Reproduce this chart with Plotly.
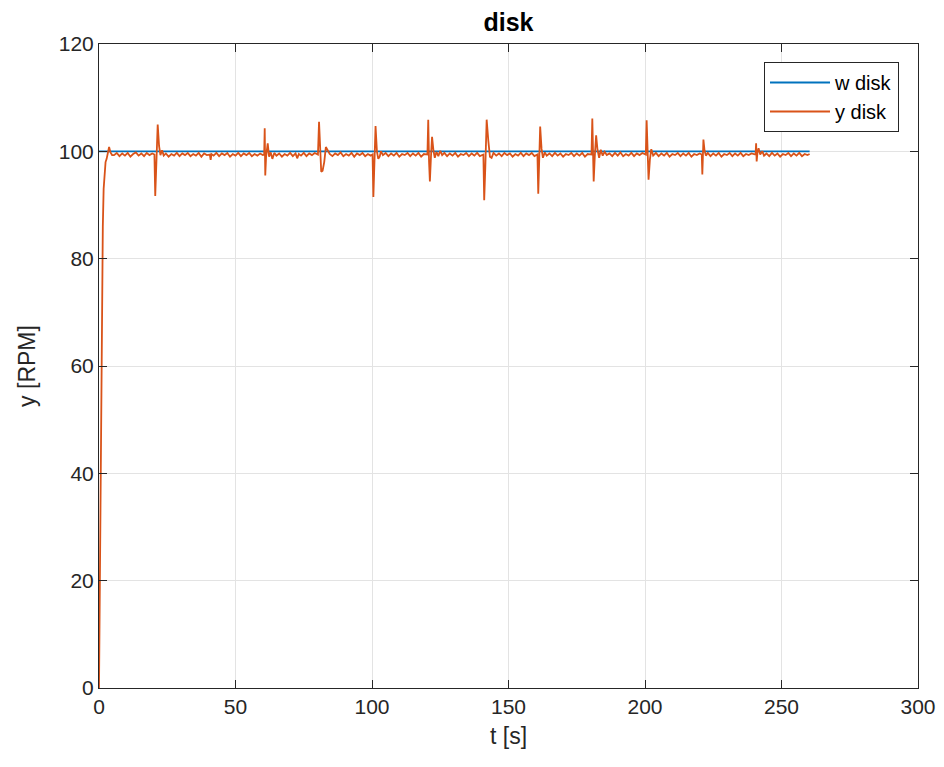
import plotly.graph_objects as go

# reference (setpoint) series
w_disk_time = [0.0, 260.3]
w_disk_value = [100.0, 100.0]

y_start = [(0, 0), (0.2, 15), (0.5, 38), (0.8, 58), (1.1, 74), (1.4, 86), (1.7, 93), (2.0, 96.5),
           (2.4, 98.0), (2.8, 98.6), (3.2, 99.5), (3.7, 100.8), (4.2, 99.8), (4.8, 99.3)]
y_seg_0_20 = [(5.5, 99.3), (6.5, 99.7), (7.5, 99.1), (8.5, 99.6), (9.5, 99.2), (10.5, 99.7), (11.5, 99.0),
              (12.5, 99.5), (13.5, 99.8), (14.5, 99.2), (15.5, 99.6), (16.5, 99.1), (17.5, 99.7), (18.5, 99.3),
              (19.5, 99.6), (20.3, 99.4)]
y_ev_20 = [(20.6, 91.7), (20.9, 96.5), (21.5, 105.0), (22.0, 101.0), (22.5, 99.3), (23.1, 100.2), (23.7, 99.2)]
y_seg_20_60 = [(24.5, 99.6), (25.5, 99.0), (26.5, 99.5), (27.5, 99.2), (28.5, 99.7), (29.5, 99.1), (30.5, 99.6),
               (31.5, 99.3), (32.5, 99.7), (33.5, 99.1), (34.5, 99.5), (35.5, 99.2), (36.5, 99.7), (37.5, 99.0),
               (38.5, 99.6), (39.5, 99.3), (40.6, 99.4), (40.9, 98.4), (41.2, 99.5), (42, 99.2), (43, 99.7),
               (44, 99.1), (45, 99.6), (46, 99.3), (47, 99.7), (48, 99.0), (49, 99.5), (50, 99.2), (51, 99.7),
               (52, 99.1), (53, 99.6), (54, 99.3), (55, 99.7), (56, 99.1), (57, 99.5), (58, 99.2), (59, 99.6),
               (60, 99.3), (60.5, 99.4)]
y_ev_60 = [(60.7, 104.3), (60.9, 95.5), (61.2, 99.0), (61.8, 101.5), (62.3, 99.0), (62.9, 99.8), (63.5, 98.6),
           (64.2, 99.7)]
y_seg_60_80 = [(65, 99.2), (66, 99.6), (67, 99.0), (68, 99.5), (69, 99.2), (70, 99.7), (71, 99.1), (72, 99.6),
               (72.6, 98.7), (73.2, 99.5), (74, 99.2), (75, 99.7), (76, 99.1), (77, 99.6), (78, 99.3), (79, 99.7),
               (80.2, 99.4)]
y_ev_80 = [(80.6, 105.5), (81.0, 100.0), (81.4, 96.2), (81.9, 96.4), (82.5, 98.0), (83.1, 100.8), (83.8, 100.1),
           (84.5, 99.5)]
y_seg_80_100 = [(85.5, 99.1), (86.5, 99.6), (87.5, 99.3), (88.5, 99.8), (89.5, 99.1), (90.5, 99.5), (91.5, 99.2),
                (92.5, 99.7), (93.5, 99.0), (94.5, 99.6), (95.5, 99.3), (96.5, 99.7), (97.5, 99.1), (98.5, 99.5),
                (99.5, 99.2), (100.2, 99.4)]
y_ev_100 = [(100.5, 91.5), (100.8, 97.0), (101.3, 104.7), (101.8, 100.0), (102.3, 98.6), (102.8, 99.0),
            (103.3, 100.0), (104.0, 99.3)]
y_seg_100_120 = [(105, 99.7), (106, 99.1), (107, 99.6), (108, 99.2), (109, 99.7), (110, 99.0), (111, 99.5),
                 (112, 99.3), (113, 99.7), (114, 99.1), (115, 99.6), (116, 99.2), (117, 99.7), (118, 99.0),
                 (119, 99.5), (120.3, 99.4)]
y_ev_120 = [(120.6, 105.9), (120.9, 98.0), (121.2, 94.4), (121.6, 99.0), (122.0, 102.7), (122.5, 100.2),
            (123.0, 98.8), (123.6, 99.9), (124.3, 99.1), (125.0, 100.1), (125.7, 99.3)]
y_seg_120_140 = [(126.5, 99.7), (127.5, 99.1), (128.5, 99.6), (129.5, 99.2), (130.5, 99.7), (131.5, 99.0),
                 (132.5, 99.5), (133.5, 99.3), (134.5, 99.7), (135.5, 99.1), (136.5, 99.6), (137.5, 99.2),
                 (138.5, 99.7), (139.5, 99.1), (140.8, 99.4)]
y_ev_140 = [(141.1, 90.9), (141.5, 97.0), (142.0, 105.9), (142.6, 102.0), (143.2, 99.0), (143.8, 98.8),
            (144.5, 99.7)]
y_seg_140_160 = [(145.5, 99.2), (146.5, 99.6), (147.5, 99.1), (148.5, 99.7), (149.5, 99.3), (150.5, 99.6),
                 (151.5, 99.0), (152.5, 99.5), (153.5, 99.2), (154.5, 99.7), (155.5, 99.1), (156.5, 99.6),
                 (157.5, 99.3), (158.5, 99.7), (159.5, 99.1), (160.6, 99.4)]
y_ev_160 = [(160.9, 92.1), (161.2, 98.0), (161.6, 104.6), (162.1, 100.5), (162.6, 98.8), (163.3, 99.8)]
y_seg_160_180 = [(164, 99.2), (165, 99.6), (166, 99.1), (167, 99.7), (168, 99.2), (169, 99.6), (170, 99.0),
                 (171, 99.5), (172, 99.3), (173, 99.7), (174, 99.1), (175, 99.6), (176, 99.2), (177, 99.7),
                 (178, 99.0), (179, 99.5), (180.4, 99.4)]
y_ev_180 = [(180.7, 106.1), (181.0, 98.0), (181.2, 94.4), (181.6, 99.0), (182.1, 103.0), (182.6, 100.3),
            (183.2, 98.8), (183.8, 100.3), (184.5, 99.2), (185.2, 99.9)]
y_seg_180_200 = [(186, 99.3), (187, 99.6), (188, 99.1), (189, 99.7), (190, 99.2), (191, 99.8), (192, 99.1),
                 (193, 99.5), (194, 99.2), (195, 99.7), (196, 99.1), (197, 99.6), (198, 99.3), (199, 99.7),
                 (200.3, 99.4)]
y_ev_200 = [(200.6, 105.8), (200.9, 100.0), (201.3, 94.7), (201.8, 98.5), (202.3, 100.4), (203.0, 99.2)]
y_seg_200_220 = [(204, 99.7), (205, 99.1), (206, 99.6), (207, 99.2), (208, 99.7), (209, 99.0), (210, 99.5),
                 (211, 99.3), (212, 99.7), (213, 99.1), (214, 99.6), (215, 99.2), (216, 99.7), (217, 99.0),
                 (218, 99.5), (219, 99.3), (220, 99.6), (220.8, 99.4)]
y_ev_220 = [(221.0, 95.7), (221.2, 99.0), (221.4, 102.2), (221.8, 100.2), (222.3, 99.2)]
y_seg_220_240 = [(223, 99.7), (224, 99.1), (225, 99.6), (226, 99.2), (227, 99.7), (228, 99.0), (229, 99.5),
                 (230, 99.3), (231, 99.7), (232, 99.1), (233, 99.6), (234, 99.2), (235, 99.7), (236, 99.1),
                 (237, 99.5), (238, 99.3), (239, 99.6), (240.5, 99.4)]
y_ev_240 = [(240.7, 101.5), (240.9, 98.1), (241.2, 99.8), (241.6, 100.6), (242.2, 99.4), (243.0, 100.0),
            (243.6, 99.2)]
y_seg_240_end = [(244.5, 99.6), (245.5, 99.1), (246.5, 99.7), (247.5, 99.2), (248.5, 99.6), (249.5, 99.0),
                 (250.5, 99.5), (251.5, 99.3), (252.5, 99.7), (253.5, 99.1), (254.5, 99.6), (255.5, 99.2),
                 (256.5, 99.7), (257.5, 99.1), (258.5, 99.5), (259.5, 99.3), (260.3, 99.5)]

x_ticks = [0, 50, 100, 150, 200, 250, 300]
y_ticks = [0, 20, 40, 60, 80, 100, 120]

segments = [y_start, y_seg_0_20, y_ev_20, y_seg_20_60, y_ev_60, y_seg_60_80, y_ev_80, y_seg_80_100,
            y_ev_100, y_seg_100_120, y_ev_120, y_seg_120_140, y_ev_140, y_seg_140_160, y_ev_160,
            y_seg_160_180, y_ev_180, y_seg_180_200, y_ev_200, y_seg_200_220, y_ev_220, y_seg_220_240,
            y_ev_240, y_seg_240_end]
y_disk_time = [p[0] for s in segments for p in s]
y_disk_value = [p[1] for s in segments for p in s]

FONT = "Liberation Sans, Arial, sans-serif"
AX = "#262626"

fig = go.Figure()
fig.add_trace(go.Scatter(x=w_disk_time, y=w_disk_value, mode="lines", name="w disk",
                         line=dict(color="#0072BD", width=1.8)))
fig.add_trace(go.Scatter(x=y_disk_time, y=y_disk_value, mode="lines", name="y disk",
                         line=dict(color="#D95319", width=1.8)))

axis_common = dict(showline=True, linecolor=AX, linewidth=1, mirror="ticks", ticks="inside",
                   ticklen=8, tickcolor=AX, showgrid=True, gridcolor="#e3e3e3", gridwidth=1,
                   zeroline=False, automargin=False,
                   tickfont=dict(family=FONT, size=21, color=AX))

fig.update_layout(
    width=944, height=767,
    paper_bgcolor="white", plot_bgcolor="white",
    margin=dict(l=99, r=26, t=44, b=79),
    font=dict(family=FONT, color=AX),
    title=dict(text="<b>disk</b>", x=0.5, xanchor="center", xref="paper",
               y=1 - 22 / 767, yref="container", yanchor="middle",
               font=dict(family=FONT, size=25, color="black")),
    xaxis=dict(range=[0, 300], tickvals=x_ticks, ticktext=[str(v) for v in x_ticks],
               title=dict(text="t [s]", font=dict(family=FONT, size=23, color=AX), standoff=10),
               **axis_common),
    yaxis=dict(range=[0, 120], tickvals=y_ticks, ticktext=[str(v) for v in y_ticks],
               title=dict(text="y [RPM]", font=dict(family=FONT, size=23, color=AX), standoff=16),
               **axis_common),
    legend=dict(x=(899 - 99) / 819, y=1 - (62 - 44) / 644, xanchor="right", yanchor="top",
                bgcolor="white", bordercolor=AX, borderwidth=1,
                font=dict(family=FONT, size=20, color="black"), itemwidth=60),
    showlegend=True,
)

fig.write_html("out.html", config={"displayModeBar": False},
               post_script="document.body.style.margin='0';document.body.style.overflow='hidden';")
